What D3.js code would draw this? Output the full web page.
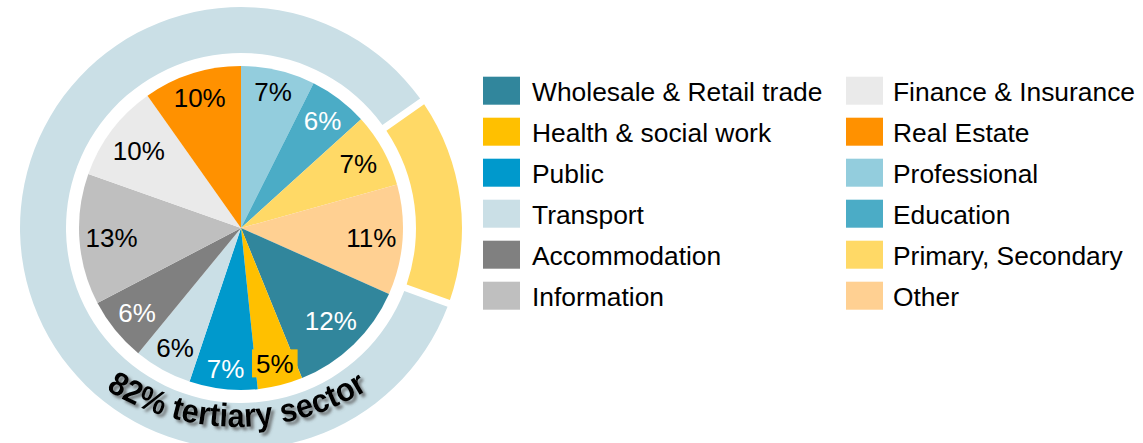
<!DOCTYPE html>
<html>
<head>
<meta charset="utf-8">
<script src="https://cdn.jsdelivr.net/npm/d3@7"></script>
<style>
  html, body { margin: 0; padding: 0; background: #ffffff; }
  svg { display: block; }
</style>
</head>
<body>
<svg id="chart" width="1143" height="443"></svg>
<script>
// ---- data (pie order, clockwise from 12 o'clock) ----
const categories = ["Professional", "Education", "Primary, Secondary", "Other",
  "Wholesale & Retail trade", "Health & social work", "Public", "Transport",
  "Accommodation", "Information", "Finance & Insurance", "Real Estate"];
const shares = [7.4, 5.9, 7.4, 11.0, 12.2, 4.5, 6.8, 5.8, 6.4, 13.1, 9.8, 9.8];
const labels = ["7%", "6%", "7%", "11%", "12%", "5%", "7%", "6%", "6%", "13%", "10%", "10%"];
const colors = ["#93CDDD", "#4BACC6", "#FFD966", "#FFD092", "#31869C", "#FFC000",
  "#0099CC", "#CADFE6", "#808080", "#BFBFBF", "#EAEAEA", "#FF9100"];
const labelColors = ["#000", "#fff", "#000", "#000", "#fff", "#000",
  "#fff", "#000", "#fff", "#000", "#000", "#000"];
const legendOrder = ["Wholesale & Retail trade", "Health & social work", "Public", "Transport",
  "Accommodation", "Information", "Finance & Insurance", "Real Estate", "Professional",
  "Education", "Primary, Secondary", "Other"];
// outer ring: non-tertiary (yellow) vs tertiary, shares of the ring as drawn
const ringNames = ["Primary, Secondary & Other", "Tertiary sector"];
const ringShares = [14.8, 85.2];
const ringColors = ["#FFD966", "#CADFE6"];
const ringTitle = "82% tertiary sector";

// ---- layout ----
const svg = d3.select("#chart");
const cx = 241, cy = 228, R = 162;
const ringIn = 175, ringOut = 221;
const deg = Math.PI / 180;
const font = "'Liberation Sans', Arial, sans-serif";

const colorOf = d3.scaleOrdinal().domain(categories).range(colors);

const defs = svg.append("defs");
const f = defs.append("filter").attr("id", "shadow")
  .attr("x", "-10%").attr("y", "-20%").attr("width", "130%").attr("height", "160%");
f.append("feGaussianBlur").attr("in", "SourceAlpha").attr("stdDeviation", 1.7).attr("result", "b");
f.append("feOffset").attr("in", "b").attr("dx", 2.5).attr("dy", 3).attr("result", "o");
f.append("feFlood").attr("flood-color", "#555").attr("flood-opacity", 0.75).attr("result", "c");
f.append("feComposite").attr("in", "c").attr("in2", "o").attr("operator", "in").attr("result", "s");
const fm = f.append("feMerge");
fm.append("feMergeNode").attr("in", "s");
fm.append("feMergeNode").attr("in", "SourceGraphic");

const g = svg.append("g").attr("transform", `translate(${cx},${cy})`);

// outer ring
const pa = 7 / ringIn;
const ringPie = d3.pie().sort(null).value(d => d).padAngle(pa);
const yellowSpan = (ringShares[0] / d3.sum(ringShares)) * (2 * Math.PI - 2 * pa) + pa;
const ringStart = 82.5 * deg - yellowSpan / 2;
ringPie.startAngle(ringStart).endAngle(ringStart + 2 * Math.PI);
const ringArc = d3.arc().innerRadius(ringIn).outerRadius(ringOut).padRadius(ringIn);
g.selectAll("path.ring").data(ringPie(ringShares)).join("path")
  .attr("class", "ring")
  .attr("d", ringArc)
  .attr("fill", (d, i) => ringColors[i]);

// inner pie
const pie = d3.pie().sort(null).value(d => d);
const arcs = pie(shares);
const arc = d3.arc().innerRadius(0).outerRadius(R);
g.selectAll("path.slice").data(arcs).join("path")
  .attr("class", "slice")
  .attr("d", arc)
  .attr("fill", (d, i) => colorOf(categories[i]));

// labels (inside end)
const Rin = 156.7, halfH = 13;
const lab = g.selectAll("g.lab").data(arcs).join("g").attr("class", "lab");
lab.each(function (d, i) {
  const sel = d3.select(this);
  const t = sel.append("text")
    .attr("text-anchor", "middle")
    .attr("dy", "0.36em")
    .attr("font-family", font)
    .attr("font-size", 26)
    .attr("fill", labelColors[i])
    .text(labels[i]);
  const w = t.node().getComputedTextLength();
  const a = (d.startAngle + d.endAngle) / 2;
  const ux = Math.sin(a), uy = -Math.cos(a);
  const ext = (w / 2) * Math.abs(ux) + halfH * Math.abs(uy);
  const r = Rin - ext;
  const x = r * ux, y = r * uy;
  t.attr("x", x).attr("y", y);
  if (categories[i] === "Health & social work") {
    sel.insert("rect", "text")
      .attr("x", x - w / 2 - 4).attr("y", y - 14)
      .attr("width", w + 8).attr("height", 28)
      .attr("fill", colorOf(categories[i]));
  }
});

// curved title (flatter arch than the ring)
const tcx = 237, tcy = 178, RT = 249;
defs.append("path").attr("id", "titlePath")
  .attr("d", `M ${tcx - RT},${tcy} A ${RT} ${RT} 0 0 0 ${tcx + RT},${tcy}`);
svg.append("text")
  .attr("font-family", font)
  .attr("font-weight", "bold")
  .attr("font-size", 33)
  .attr("fill", "#000")
  .attr("filter", "url(#shadow)")
  .append("textPath")
  .attr("href", "#titlePath")
  .attr("startOffset", "50%")
  .attr("text-anchor", "middle")
  .attr("textLength", 276)
  .attr("lengthAdjust", "spacingAndGlyphs")
  .text(ringTitle);

// legend
const legX = [483, 846], textX = [532, 893];
const rowY = d3.scaleLinear().domain([0, 1]).range([76.7, 117.7]);
const leg = svg.append("g");
legendOrder.forEach((name, k) => {
  const col = Math.floor(k / 6), row = k % 6;
  const y0 = rowY(row);
  leg.append("rect")
    .attr("x", legX[col]).attr("y", y0)
    .attr("width", 37).attr("height", 28)
    .attr("fill", colorOf(name));
  leg.append("text")
    .attr("x", textX[col]).attr("y", y0 + 24)
    .attr("font-family", font)
    .attr("font-size", 26.4)
    .attr("fill", "#000")
    .text(name);
});
</script>
</body>
</html>
